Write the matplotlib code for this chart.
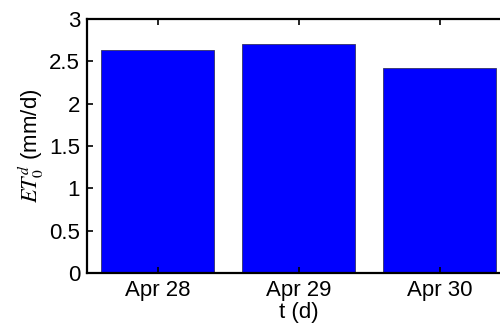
import matplotlib.pyplot as plt

plt.rcParams['font.family'] = ['Liberation Sans', 'DejaVu Sans']
plt.rcParams['mathtext.fontset'] = 'stix'

days = ["Apr 28", "Apr 29", "Apr 30"]
et0 = [2.63, 2.70, 2.42]
y_ticks = [0, 0.5, 1, 1.5, 2, 2.5, 3]
y_tick_labels = ["0", "0.5", "1", "1.5", "2", "2.5", "3"]

fig = plt.figure(figsize=(5.0, 3.29), dpi=100)
ax = fig.add_axes([0.174, 0.17, 0.846, 0.772])

pos = list(range(1, len(days) + 1))
ax.bar(pos, et0, width=0.8, color="#0000ff", edgecolor="#333366", linewidth=0.6)

ax.set_xlim(0.5, 3.5)
ax.set_ylim(0, 3)
ax.set_xticks(pos)
ax.set_xticklabels(days)
ax.set_yticks(y_ticks)
ax.set_yticklabels(y_tick_labels)

ax.tick_params(direction="in", length=4, width=1.2, labelsize=16, top=True, right=True, pad=5)
for s in ax.spines.values():
    s.set_linewidth(1.6)

ax.set_xlabel("t (d)", fontsize=16, labelpad=1)
ax.set_ylabel(r"$ET_{0}^{d}$ (mm/d)", fontsize=16, labelpad=2)

fig.savefig("out.png", dpi=100)
